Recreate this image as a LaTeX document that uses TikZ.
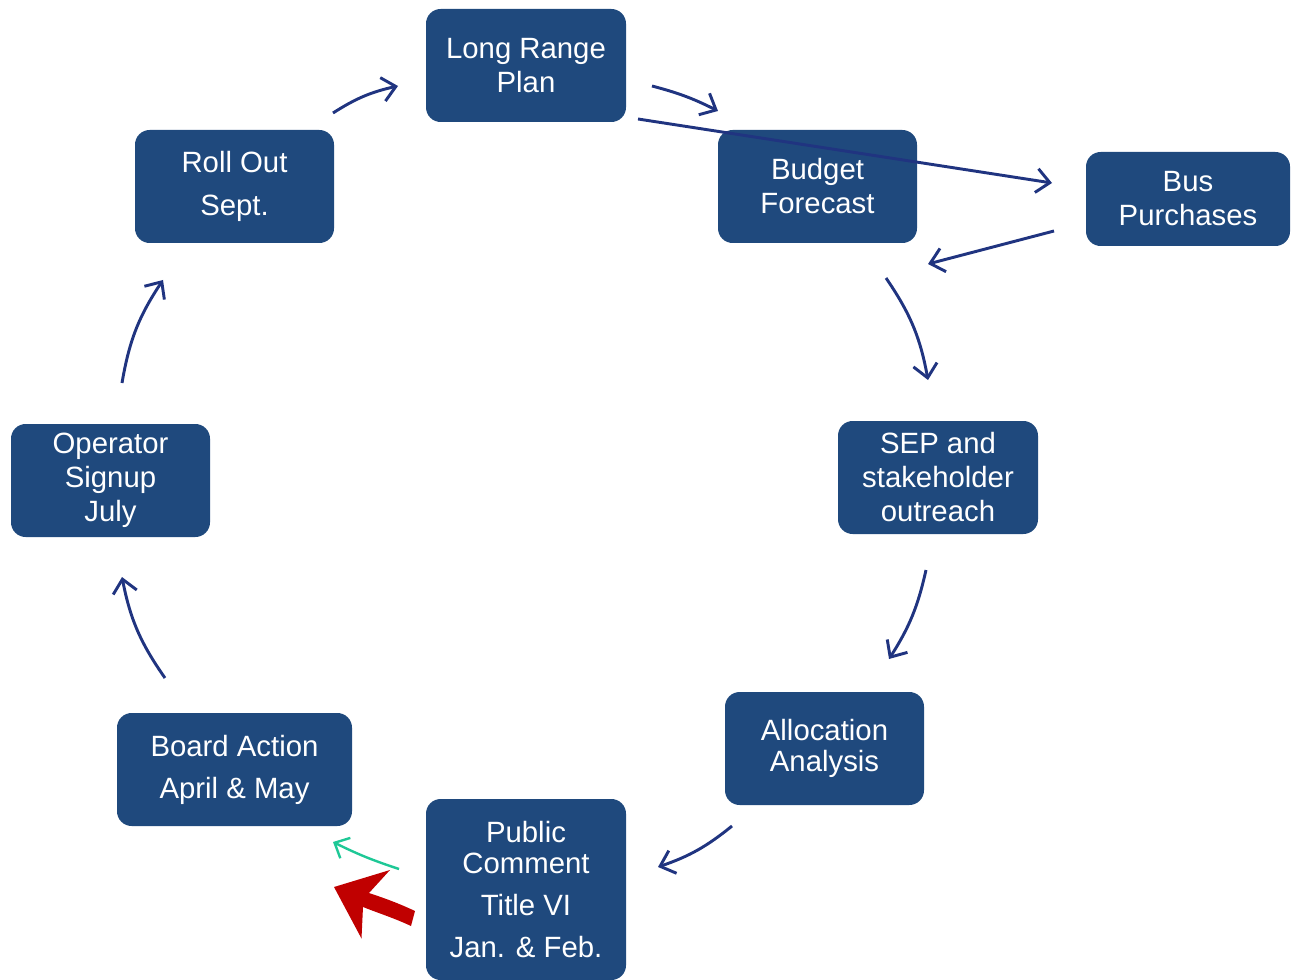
\documentclass[tikz,border=0pt]{standalone}
\usepackage{fontspec}
\setmainfont{Liberation Sans}
\usetikzlibrary{arrows.meta}
\definecolor{boxblue}{RGB}{31,73,125}
\definecolor{arrowblue}{RGB}{32,52,128}
\definecolor{teal}{RGB}{30,200,150}
\definecolor{darkred}{RGB}{192,0,0}
\tikzset{
  stage/.style={draw=none, fill=boxblue, rounded corners=11pt, text=white, align=center,
    inner sep=0pt, outer sep=0pt, minimum width=150pt, minimum height=84.75pt,
    font=\fontsize{22}{25.5}\selectfont},
  flow/.style={draw=arrowblue, line width=2.2pt, -{Straight Barb[length=10pt,width=18pt]}},
  greenflow/.style={draw=teal, line width=1.8pt, -{Straight Barb[length=9pt,width=17pt]}}
}
\begin{document}
\begin{tikzpicture}[x=0.75pt,y=0.75pt]
\useasboundingbox (0,0) rectangle (1291,-980);
% boxes
\node[stage] (long) at (526,-65.5) {Long Range\\Plan};
\node[stage, minimum width=149.25pt, font=\fontsize{22}{32}\selectfont] (roll) at (234.5,-186.5) {Roll Out\\Sept.};
\node[stage, minimum width=149.25pt] (budget) at (817.5,-186.5) {Budget\\Forecast};
\node[stage, minimum width=153pt, minimum height=70.5pt] (bus) at (1188,-199) {Bus\\Purchases};
\node[stage] (sep) at (938,-477.5) {SEP and\\stakeholder\\outreach};
\node[stage, minimum width=149.25pt] (oper) at (110.5,-480.5) {Operator\\Signup\\July};
\node[stage, minimum width=149.25pt, font=\fontsize{22}{23.25}\selectfont] (alloc) at (824.5,-748.5) {Allocation\\Analysis};
\node[stage, minimum width=176.25pt, font=\fontsize{22}{31.5}\selectfont] (board) at (234.5,-769.5) {Board Action\\April \& May};
\node[stage, minimum height=135.75pt, font=\fontsize{22}{23.25}\selectfont] (public) at (526,-889.5) {Public\\Comment\\[8.25pt]Title VI\\[8.25pt]Jan. \& Feb.};
% connector ends
\coordinate (a1s) at (333,-113); \coordinate (a1e) at (398,-86);
\coordinate (a2s) at (652,-86);  \coordinate (a2e) at (718,-111);
\coordinate (a3s) at (638,-119); \coordinate (a3e) at (1052,-183);
\coordinate (a4s) at (1054,-231); \coordinate (a4e) at (928,-264);
\coordinate (a5s) at (886,-278); \coordinate (a5e) at (928,-380);
\coordinate (a6s) at (926,-570); \coordinate (a6e) at (889,-659);
\coordinate (a7s) at (732,-826); \coordinate (a7e) at (658,-867);
\coordinate (a8s) at (399,-869); \coordinate (a8e) at (333,-842);
\coordinate (a9s) at (165,-678); \coordinate (a9e) at (122,-577);
\coordinate (a10s) at (122,-383); \coordinate (a10e) at (163,-280);
% connectors
\draw[flow] (a1s) to[bend left=10] (a1e);
\draw[flow] (a2s) to[bend left=6] (a2e);
\draw[flow] (a3s) -- (a3e);
\draw[flow] (a4s) -- (a4e);
\draw[flow] (a5s) to[bend left=12] (a5e);
\draw[flow] (a6s) to[bend left=10] (a6e);
\draw[flow] (a7s) to[bend left=10] (a7e);
\draw[greenflow] (a8s) to[bend left=4] (a8e);
\draw[flow] (a9s) to[bend left=12] (a9e);
\draw[flow] (a10s) to[bend left=12] (a10e);
% red pointer arrow
\fill[darkred] (415,-911) .. controls (398,-903) and (384,-898) .. (369,-893)
  -- (390,-870) -- (334,-887) -- (361.5,-938.5) -- (363,-907)
  .. controls (378,-913) and (394,-918) .. (411,-926) -- cycle;
\end{tikzpicture}
\end{document}
